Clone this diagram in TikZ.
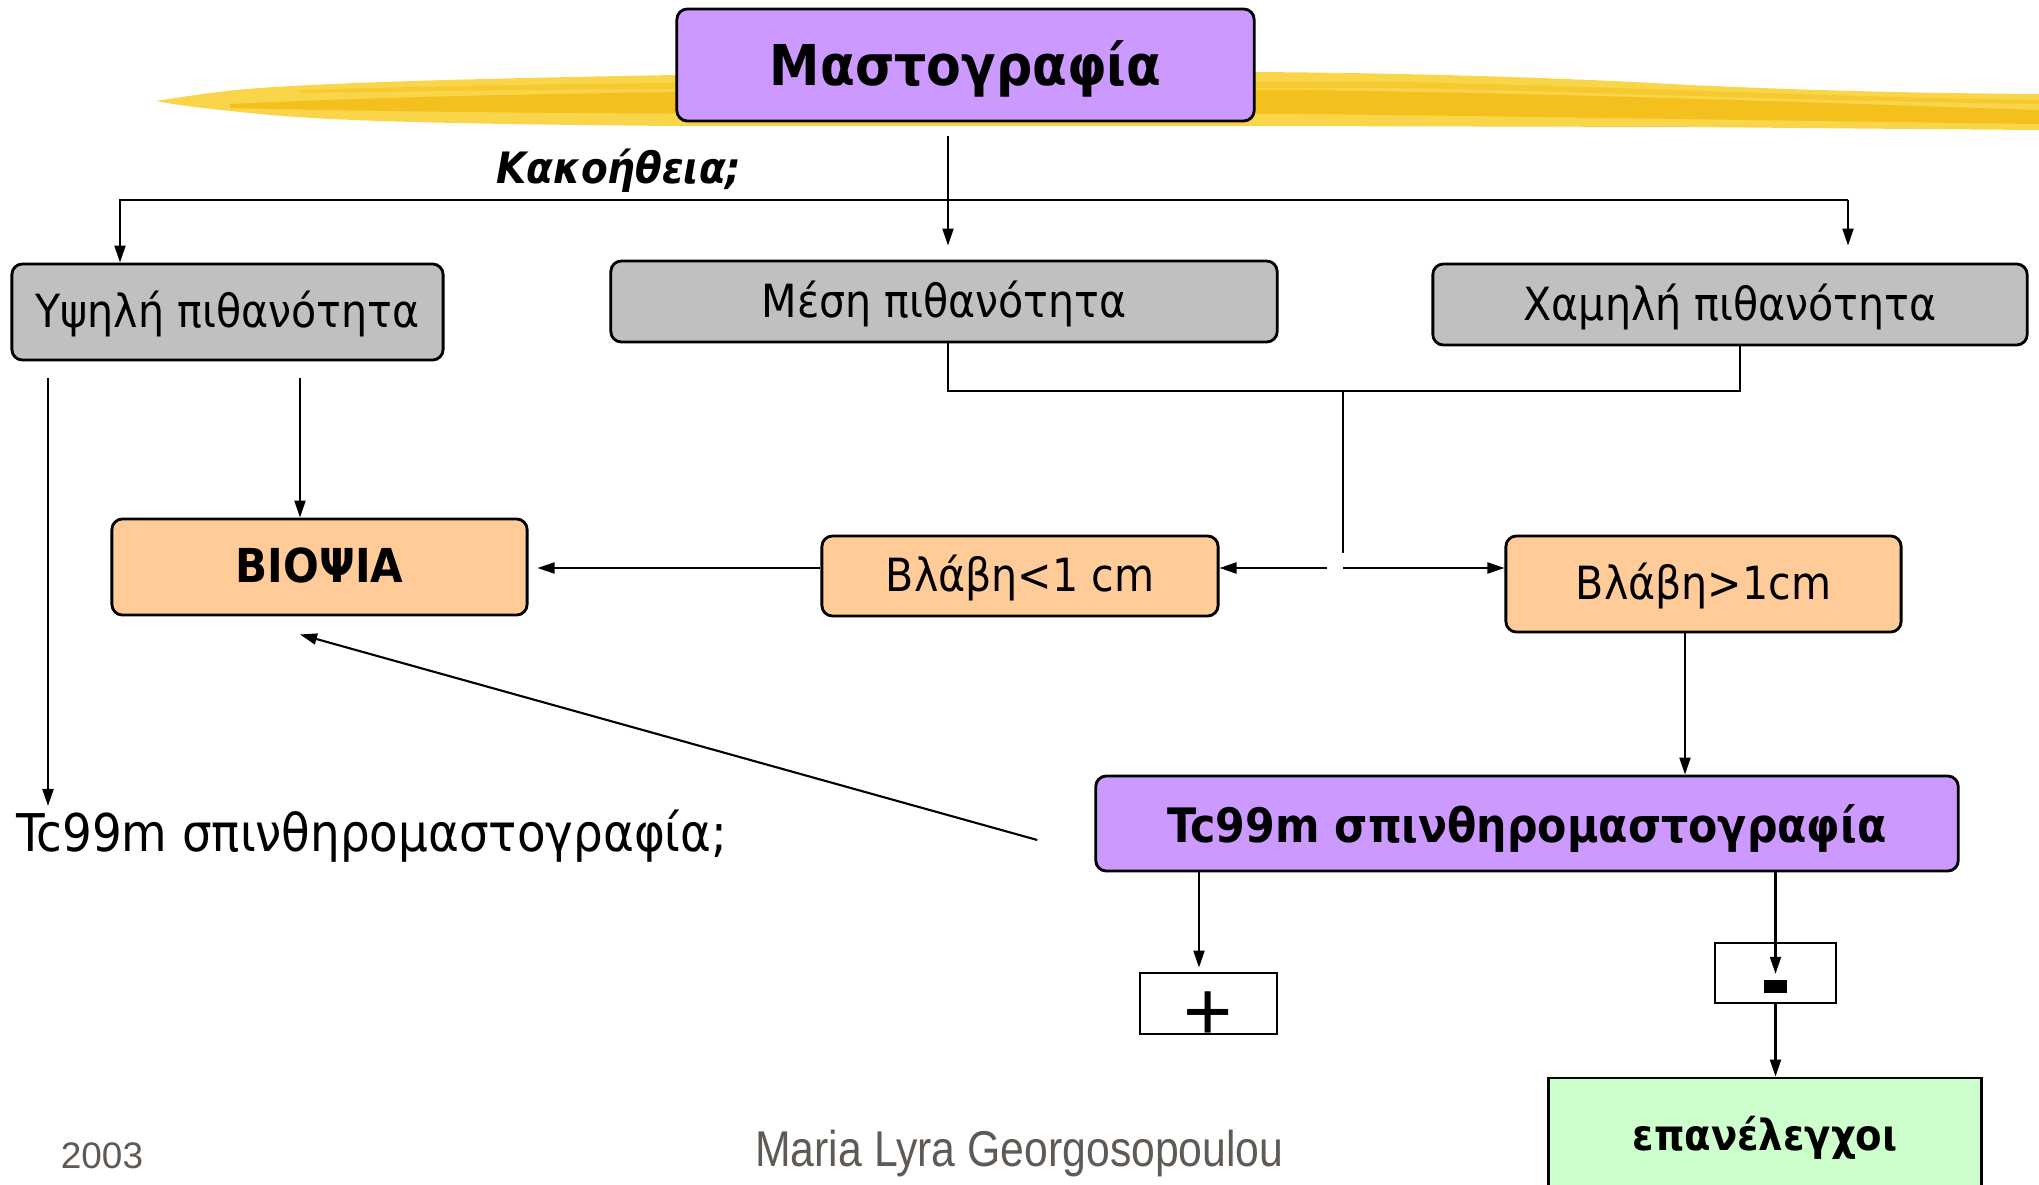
\documentclass[tikz,border=0pt]{standalone}
\usepackage{fontspec}
\usepackage{graphicx}
\setmainfont{DejaVu Sans Condensed}
\newfontfamily\footfont{Liberation Sans}
\usetikzlibrary{arrows.meta}
\definecolor{lilac}{HTML}{CC99FF}
\definecolor{greybox}{HTML}{C0C0C0}
\definecolor{peach}{HTML}{FFCC99}
\definecolor{mint}{HTML}{CCFFCC}
\definecolor{brush}{HTML}{F9D54A}
\definecolor{brushdark}{HTML}{F2B300}
\definecolor{footgrey}{HTML}{5F5A55}

\begin{document}
\begin{tikzpicture}[x=0.01cm,y=-0.01cm,
    box/.style={draw, line width=0.8pt, rounded corners=3pt, inner sep=0pt, text height=11pt, text depth=2pt},
    plainbox/.style={draw, line width=0.8pt, inner sep=0pt, text height=11pt, text depth=2pt},
    arr/.style={-{Triangle[length=0.17cm,width=0.11cm]}, line width=0.6pt},
    link/.style={line width=0.6pt},
    txt/.style={font=\fontsize{#1}{#1}\selectfont},
    btxt/.style={font=\bfseries\fontsize{#1}{#1}\selectfont}]
  \useasboundingbox (0,0) rectangle (2039,1185);
  % brush stroke
  \fill[brush] (156,101) .. controls (200,94) and (230,90) .. (260,88) .. controls (330,83) and (450,79) .. (676,75) -- (1254,72) .. controls (1400,73) and (1550,77) .. (1690,85) .. controls (1800,90) and (1900,93) .. (2039,94) -- (2039,130) .. controls (1900,129) and (1800,128) .. (1690,127) -- (1254,126) -- (676,126) .. controls (450,124) and (330,121) .. (260,114) .. controls (220,110) and (180,106) .. (156,101) -- cycle;
  \fill[brushdark, opacity=0.6] (230,104) .. controls (400,96) and (600,92) .. (900,90) -- (1300,90) .. controls (1600,94) and (1850,104) .. (2039,110) -- (2039,124) .. controls (1800,121) and (1500,116) .. (1300,114) -- (900,114) .. controls (600,114) and (400,112) .. (230,108) -- cycle;
  \fill[brushdark, opacity=0.35] (300,90) .. controls (500,84) and (700,82) .. (900,82) -- (1400,82) .. controls (1600,86) and (1800,96) .. (2039,100) -- (2039,104) .. controls (1800,101) and (1600,92) .. (1400,88) -- (900,88) .. controls (700,88) and (500,90) .. (300,93) -- cycle;
  % title
  \node[box, fill=lilac, minimum width=5.77cm, minimum height=1.12cm, btxt=16, text height=14pt, text depth=2.6pt] (mammo) at (965.5,65) {Μαστογραφία};
  \node[font=\bfseries\itshape\fontsize{12.3}{12.3}\selectfont] (malig) at (619,171) {Κακοήθεια;};
  % probabilities
  \node[box, fill=greybox, minimum width=4.31cm, minimum height=0.96cm, txt=13] (high) at (227.5,312) {Υψηλή πιθανότητα};
  \node[box, fill=greybox, minimum width=6.66cm, minimum height=0.81cm, txt=13] (mid) at (944,301.5) {Μέση πιθανότητα};
  \node[box, fill=greybox, minimum width=5.94cm, minimum height=0.81cm, txt=13] (low) at (1730,304.5) {Χαμηλή πιθανότητα};
  % lesions and biopsy
  \node[box, fill=peach, minimum width=4.15cm, minimum height=0.96cm, btxt=13.3] (biopsy) at (319.5,567) {ΒΙΟΨΙΑ};
  \node[box, fill=peach, minimum width=3.96cm, minimum height=0.80cm, txt=13] (small) at (1020,576) {Βλάβη<1 cm};
  \node[box, fill=peach, minimum width=3.95cm, minimum height=0.96cm, txt=13] (large) at (1703.5,584) {Βλάβη>1cm};
  % scintimammography
  \node[anchor=west, inner sep=0pt, text height=12pt, text depth=2pt, txt=14.8] (quest) at (16,834) {Tc99m σπινθηρομαστογραφία;};
  \node[box, fill=lilac, minimum width=8.62cm, minimum height=0.95cm, btxt=13.5, text height=12.7pt] (tc) at (1527,823.5) {Tc99m σπινθηρομαστογραφία};
  % results
  \node[plainbox, fill=white, minimum width=1.37cm, minimum height=0.61cm,
    label={[font=\footfont\fontsize{24}{24}\selectfont, yshift=-0.13cm]center:+}] (plus) at (1208.5,1003.5) {};
  \node[plainbox, fill=white, minimum width=1.21cm, minimum height=0.60cm,
    label={[name=mbar, fill=black, inner sep=0pt, minimum width=0.23cm, minimum height=0.13cm, yshift=-0.13cm]center:{}}] (minus) at (1775.5,973) {};
  \node[plainbox, fill=mint, minimum width=4.32cm, minimum height=1.14cm, btxt=12.2] (followup) at (1765,1135) {επανέλεγχοι};
  % footer
  \node[font=\footfont\fontsize{10.5}{10.5}\selectfont, text=footgrey] (year) at (102,1156) {2003};
  \node[font=\footfont\fontsize{14.3}{14.3}\selectfont, text=footgrey] (author) at (1019.5,1153) {\scalebox{0.85}[1]{Maria Lyra Georgosopoulou}};

  % connectors from the title
  \coordinate (kleft) at (120,200);
  \coordinate (kright) at (1848,200);
  \coordinate (midtop) at ([xshift=0.04cm]mid.north);
  \coordinate (midbot) at ([xshift=0.04cm]mid.south);
  \draw[arr] (kright) -- (kleft) -- (kleft |- high.north);
  \draw[arr, shorten >=0.17cm] (kright) -- (kright |- low.north);
  \draw[arr, shorten <=0.14cm, shorten >=0.14cm] (mammo.south -| midtop) -- (midtop);
  % medium and low join
  \coordinate (join) at (1343,391);
  \coordinate (fork) at (1343,568);
  \draw[link] (midbot) |- (join) -| ([xshift=0.1cm]low.south);
  \draw[link, shorten >=0.15cm] (join) -- (fork);
  \draw[arr, shorten <=0.16cm] (fork) -- (fork -| small.east);
  \draw[arr] (fork) -- (fork -| large.west);
  \draw[arr, shorten >=0.09cm] (fork -| small.west) -- (fork -| biopsy.east);
  % high probability
  \coordinate (toB) at ([xshift=-0.195cm]biopsy.north);
  \coordinate (qtop) at (48,806);
  \draw[arr, shorten <=0.17cm] (high.south -| toB) -- (toB);
  \draw[arr, shorten <=0.17cm] (high.south -| qtop) -- (qtop);
  % back to biopsy
  \coordinate (diag) at ([xshift=-0.57cm, yshift=-0.165cm]tc.west);
  \path (toB |- biopsy.south) ++(0,18) coordinate (toBs);
  \draw[arr] (diag) -- (toBs);
  % large lesion
  \coordinate (lb) at ([xshift=-0.185cm]large.south);
  \draw[arr] (lb) -- (lb |- tc.north);
  \coordinate (pt) at ([xshift=-0.095cm]plus.north);
  \draw[arr, shorten >=0.04cm] (tc.south -| pt) -- (pt);
  \draw[arr, shorten >=0.05cm] (tc.south -| mbar.north) -- (mbar.north);
  \draw[arr] (mbar.south |- minus.south) -- (mbar.south |- followup.north);
\end{tikzpicture}
\end{document}
